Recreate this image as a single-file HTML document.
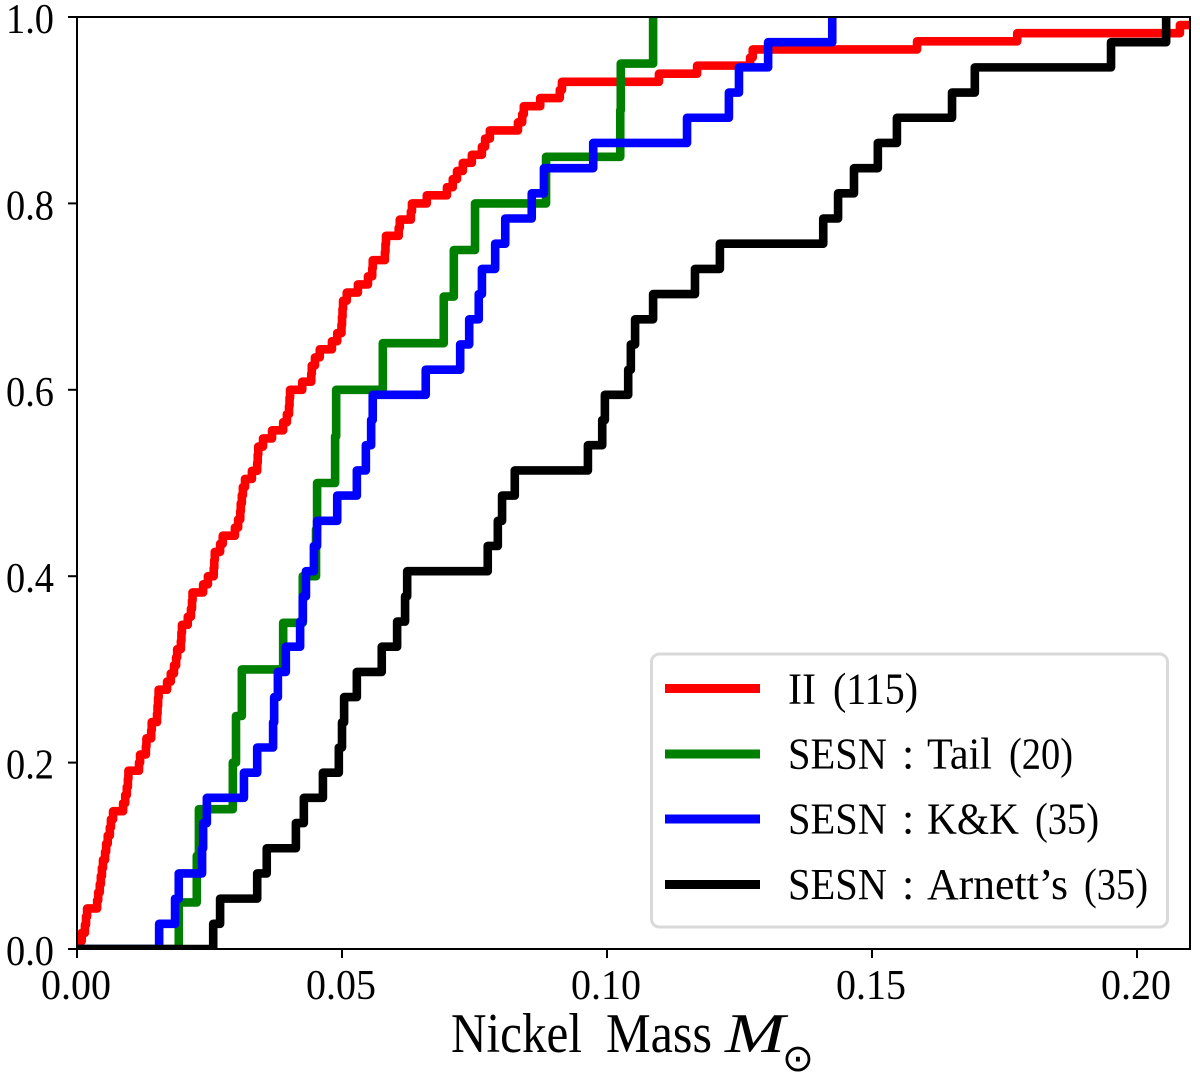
<!DOCTYPE html>
<html>
<head>
<meta charset="utf-8">
<title>Nickel Mass CDF</title>
<style>
html,body{margin:0;padding:0;background:#fff;}
svg{display:block;}
text{font-family:"Liberation Serif",serif;fill:#000;}
</style>
</head>
<body>
<svg id="chart" xmlns="http://www.w3.org/2000/svg" width="1200" height="1072" viewBox="0 0 1200 1072">
<defs><clipPath id="plot-clip"><rect x="77" y="17" width="1113" height="932"/></clipPath></defs>
<rect x="0" y="0" width="1200" height="1072" fill="#fff"/>
<g id="series-layer" clip-path="url(#plot-clip)"></g>
<g id="axes-layer"></g>
<g>
<text x="451" y="1052" font-size="56" textLength="131" lengthAdjust="spacingAndGlyphs">Nickel</text>
<text x="606" y="1052" font-size="56" textLength="106" lengthAdjust="spacingAndGlyphs">Mass</text>
<text x="725" y="1052" font-size="56" font-style="italic" textLength="60" lengthAdjust="spacingAndGlyphs">M</text>
<text x="782" y="1071" style="font-family:'DejaVu Sans',sans-serif" font-size="38">⊙</text>
</g>
<g>
<rect x="651.5" y="654" width="516" height="273" rx="8" ry="8" fill="#fff" stroke="#d9d9d9" stroke-width="3"/>
<g>
<rect x="665" y="684" width="95" height="9" fill="#ff0000"/>
<text x="788" y="703.5" font-size="44" textLength="28" lengthAdjust="spacingAndGlyphs">II</text>
<text x="833" y="703.5" font-size="44" textLength="85" lengthAdjust="spacingAndGlyphs">(115)</text>
</g>
<g>
<rect x="665" y="749.5" width="95" height="9" fill="#008000"/>
<text x="788" y="768.5" font-size="44" textLength="99" lengthAdjust="spacingAndGlyphs">SESN</text>
<text x="902" y="768.5" font-size="44">:</text>
<text x="927" y="768.5" font-size="44" textLength="65" lengthAdjust="spacingAndGlyphs">Tail</text>
<text x="1009" y="768.5" font-size="44" textLength="64" lengthAdjust="spacingAndGlyphs">(20)</text>
</g>
<g>
<rect x="665" y="814.5" width="95" height="9" fill="#0000ff"/>
<text x="788" y="833.5" font-size="44" textLength="99" lengthAdjust="spacingAndGlyphs">SESN</text>
<text x="902" y="833.5" font-size="44">:</text>
<text x="927" y="833.5" font-size="44" textLength="92" lengthAdjust="spacingAndGlyphs">K&amp;K</text>
<text x="1035" y="833.5" font-size="44" textLength="64" lengthAdjust="spacingAndGlyphs">(35)</text>
</g>
<g>
<rect x="665" y="880" width="95" height="9" fill="#000000"/>
<text x="788" y="899" font-size="44" textLength="99" lengthAdjust="spacingAndGlyphs">SESN</text>
<text x="902" y="899" font-size="44">:</text>
<text x="927" y="899" font-size="44" textLength="141" lengthAdjust="spacingAndGlyphs">Arnett’s</text>
<text x="1084" y="899" font-size="44" textLength="64" lengthAdjust="spacingAndGlyphs">(35)</text>
</g>
</g>
</svg>
<script>
var xTicks = ["0.00", "0.05", "0.10", "0.15", "0.20"];
var yTicks = ["0.0", "0.2", "0.4", "0.6", "0.8", "1.0"];
var massesII = [
.0004,.0009,.0015,.0017,.0019,.0038,.0040,.0043,.0045,.0047,
.0049,.0053,.0055,.0058,.0062,.0064,.0068,.0087,.0091,.0094,
.0096,.0097,.0117,.0119,.0130,.0131,.0140,.0141,.0151,.0152,
.0153,.0154,.0170,.0177,.0183,.0187,.0189,.0196,.0197,.0198,
.0209,.0215,.0217,.0218,.0238,.0247,.0258,.0259,.0260,.0270,
.0275,.0298,.0304,.0308,.0309,.0311,.0313,.0317,.0330,.0340,
.0341,.0342,.0351,.0368,.0389,.0396,.0400,.0401,.0402,.0425,
.0442,.0443,.0449,.0458,.0481,.0491,.0499,.0500,.0501,.0502,
.0509,.0530,.0549,.0557,.0558,.0581,.0582,.0583,.0607,.0609,
.0630,.0632,.0660,.0698,.0709,.0717,.0728,.0745,.0764,.0770,
.0779,.0832,.0840,.0843,.0874,.0911,.0915,.1098,.1170,.1270,
.1275,.1585,.1774,.2081,.2400];
var massesTail = [.0192,.0226,.0230,.0294,.0300,.0311,.0389,.0426,.0451,.0453,.0487,.0489,.0577,.0692,.0711,.0751,.0885,.1025,.1026,.1087];
var massesKK = [.0155,.0185,.0192,.0236,.0238,.0245,.0315,.0340,.0370,.0372,.0379,.0394,.0421,.0426,.0432,.0447,.0453,.0491,.0528,.0545,.0555,.0558,.0658,.0723,.0740,.0758,.0764,.0789,.0808,.0858,.0881,.0974,.1151,.1230,.1249,.1304,.1425];
var massesArnett = [.0257,.0270,.0340,.0358,.0413,.0428,.0464,.0494,.0500,.0504,.0528,.0575,.0604,.0619,.0623,.0775,.0794,.0802,.0826,.0964,.0991,.0996,.1040,.1045,.1053,.1087,.1166,.1213,.1408,.1436,.1466,.1511,.1547,.1651,.1694,.1951,.2055];

var NS = "http://www.w3.org/2000/svg";
var X0 = 77, X1 = 1190, Y0 = 949, Y1 = 17, XMAX = 0.21;
function xScale(v) { return X0 + (X1 - X0) * v / XMAX; }
function yScale(f) { return Y0 + (Y1 - Y0) * f; }
function mk(tag, attrs, parent) {
  var el = document.createElementNS(NS, tag);
  for (var k in attrs) el.setAttribute(k, attrs[k]);
  parent.appendChild(el);
  return el;
}
function stepPath(values) {
  var n = values.length;
  var d = "M" + xScale(0) + " " + yScale(0);
  for (var i = 0; i < n; i++) {
    var x = xScale(values[i]).toFixed(2);
    d += "L" + x + " " + yScale(i / n).toFixed(2);
    d += "L" + x + " " + yScale((i + 1) / n).toFixed(2);
  }
  return d;
}
var seriesLayer = document.getElementById("series-layer");
function drawSeries(values, colour, name) {
  var p = mk("path", {d: stepPath(values), fill: "none", stroke: colour, "stroke-width": 8.6, "stroke-linejoin": "round", "stroke-linecap": "butt"}, seriesLayer);
  
  
}
drawSeries(massesII, "#ff0000", "series-ii");
drawSeries(massesTail, "#008000", "series-sesn-tail");
drawSeries(massesKK, "#0000ff", "series-sesn-kk");
drawSeries(massesArnett, "#000000", "series-sesn-arnett");

var axes = document.getElementById("axes-layer");
var frame = mk("rect", {x: X0, y: Y1, width: X1 - X0, height: Y0 - Y1, fill: "none", stroke: "#000", "stroke-width": 2}, axes);


xTicks.forEach(function (label) {
  var x = xScale(parseFloat(label));
  var t = mk("line", {x1: x, x2: x, y1: Y0, y2: Y0 + 9, stroke: "#000", "stroke-width": 2}, axes);
  
  
  var s = mk("text", {x: x - 36, y: 999, "font-size": 42, textLength: 70, lengthAdjust: "spacingAndGlyphs"}, axes);
  s.textContent = label;
  
  
});
yTicks.forEach(function (label) {
  var y = yScale(parseFloat(label));
  var t = mk("line", {x1: X0 - 9, x2: X0, y1: y, y2: y, stroke: "#000", "stroke-width": 2}, axes);
  
  
  var s = mk("text", {x: 6, y: y + 16, "font-size": 42, textLength: 48, lengthAdjust: "spacingAndGlyphs"}, axes);
  s.textContent = label;
  
  
});
</script>
</body>
</html>
